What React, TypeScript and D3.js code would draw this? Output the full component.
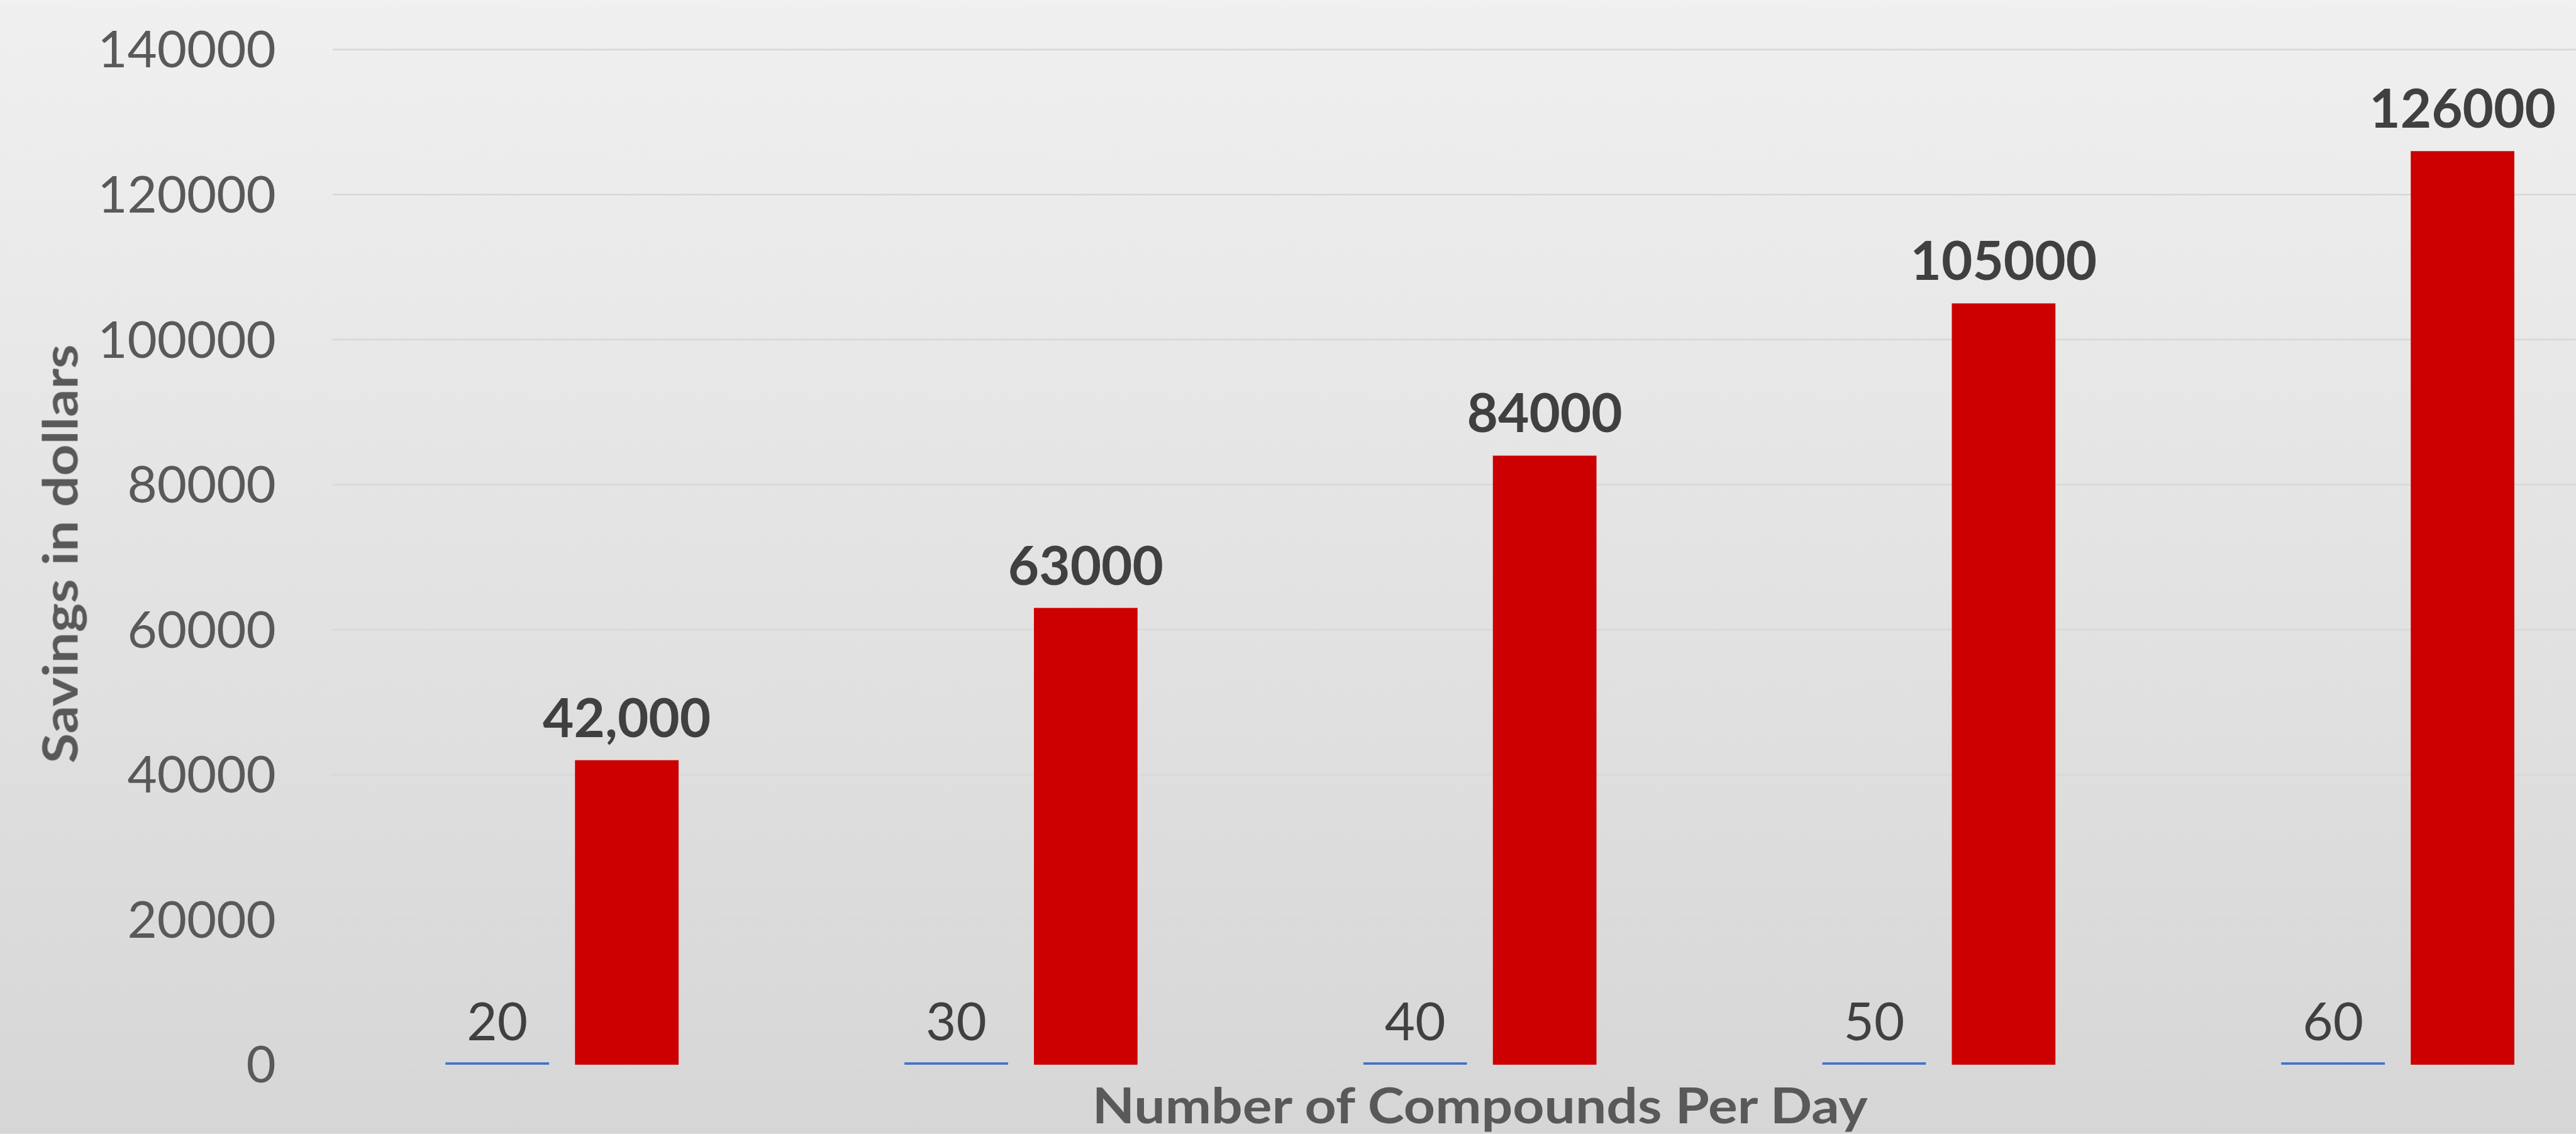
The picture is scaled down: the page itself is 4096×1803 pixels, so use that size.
import React from 'react';
import * as d3 from 'd3';

// categories (hidden on the axis, the numbers show as labels on the blue series)
const categories = ['1', '2', '3', '4', '5'];
const compounds = [20, 30, 40, 50, 60];
const savings = [42000, 63000, 84000, 105000, 126000];
const savingsLabels = ['42,000', '63000', '84000', '105000', '126000'];
const yTicks = [0, 20000, 40000, 60000, 80000, 100000, 120000, 140000];

const W = 4322, H = 1902;
const font = 'Lato, "Open Sans", sans-serif';

const App = () => {
  const margin = { left: 558, top: 83, bottom: 116 };
  const plotRight = margin.left + 5 * 770;

  const x0 = d3.scaleBand().domain(categories).range([margin.left, plotRight]).paddingInner(0.492).paddingOuter(0.246);
  const x1 = d3.scaleBand().domain(['compounds', 'savings']).range([0, x0.bandwidth()]).paddingInner(0.2);
  const y = d3.scaleLinear().domain([0, 140000]).range([H - margin.bottom, margin.top]);

  const y0 = y(0);

  return (
    <svg width={4096} height={1803} viewBox={'0 0 ' + W + ' ' + H} style={{ position: 'fixed', left: 0, top: 0 }}>
      <defs>
        <linearGradient id="bg" x1="0" y1="0" x2="0" y2="1">
          <stop offset="0" stopColor="#f0f0f0" />
          <stop offset="1" stopColor="#d6d6d6" />
        </linearGradient>
      </defs>
      <rect x={0} y={0} width={W} height={H} fill="url(#bg)" />

      {/* gridlines + y labels */}
      {yTicks.map(t => (
        <g key={t}>
          <line x1={margin.left} x2={W} y1={y(t)} y2={y(t)} stroke="#d9d9d9" strokeWidth={3} />
          <text x={463} y={y(t)} dy="0.35em" textAnchor="end" fill="#595959"
            style={{ fontFamily: font, fontSize: 86 }}>{t}</text>
        </g>
      ))}

      {categories.map((c, i) => {
        const gx = x0(c);
        const bx = gx + x1('compounds');
        const rx = gx + x1('savings');
        const bw = x1.bandwidth();
        const bh = Math.max(y0 - y(compounds[i]), 4);
        return (
          <g key={c}>
            <rect x={bx} y={y0 - bh} width={bw} height={bh} fill="#4472c4" />
            <text x={bx + bw / 2} y={y0 - 41} textAnchor="middle" fill="#404040"
              style={{ fontFamily: font, fontSize: 88 }}>{compounds[i]}</text>
            <rect x={rx} y={y(savings[i])} width={bw} height={y0 - y(savings[i])} fill="#cc0000" />
            <text x={rx + bw / 2} y={y(savings[i]) - 39} textAnchor="middle" fill="#404040"
              style={{ fontFamily: font, fontSize: 90, fontWeight: 700 }}>{savingsLabels[i]}</text>
          </g>
        );
      })}

      {/* axis titles */}
      <text transform={'translate(130,929) rotate(-90)'} textAnchor="middle" fill="#595959"
        textLength={703} lengthAdjust="spacingAndGlyphs"
        style={{ fontFamily: font, fontSize: 80, fontWeight: 700 }}>Savings in dollars</text>
      <text x={2483} y={1884} textAnchor="middle" fill="#595959"
        textLength={1301} lengthAdjust="spacingAndGlyphs"
        style={{ fontFamily: font, fontSize: 82, fontWeight: 700 }}>Number of Compounds Per Day</text>
    </svg>
  );
};

export default App;
